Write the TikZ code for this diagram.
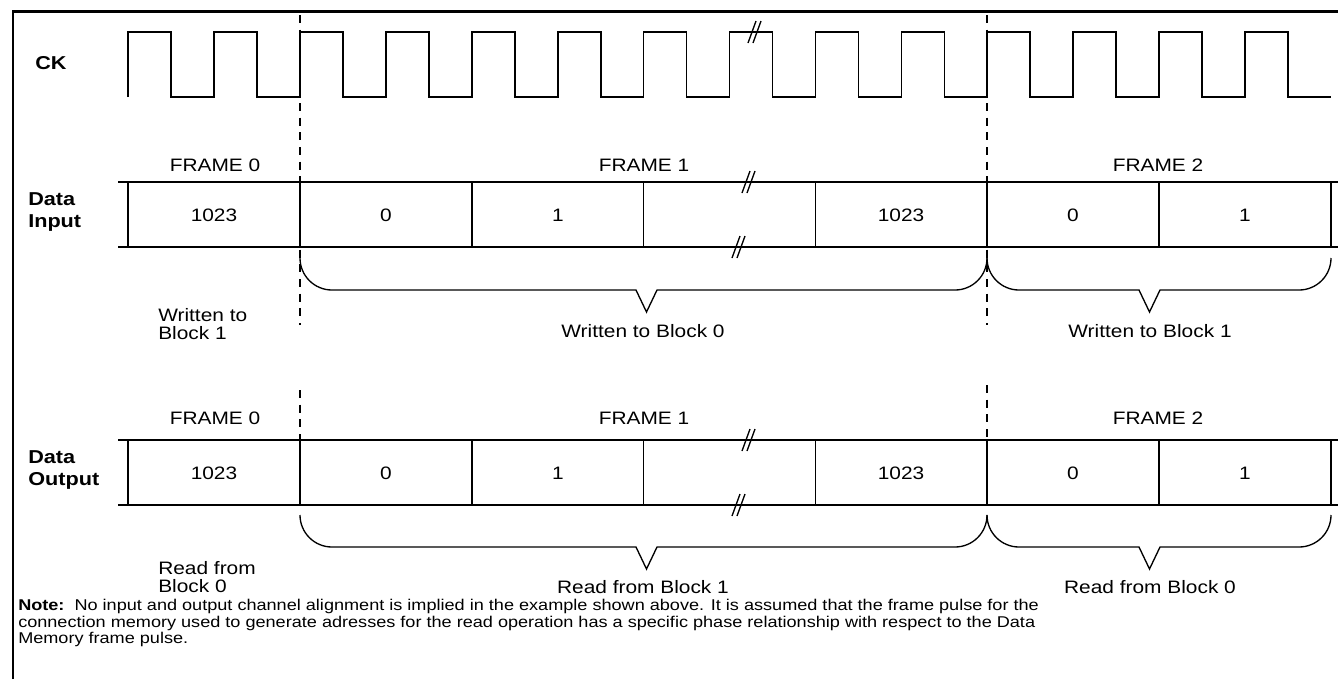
\documentclass[tikz,border=0pt]{standalone}
\usepackage{fontspec}
\setmainfont{Liberation Sans}[FakeStretch=1.16]
\usepackage{tikz}

\tikzset{
  sig/.style={line width=1pt},
  frameline/.style={line width=1.9pt},
  cut/.style={line width=1pt, dash pattern=on 6pt off 5pt},
  txt/.style={font=\fontsize{13.5}{13.5}\selectfont, inner sep=0pt},
  lefttxt/.style={txt, align=left, anchor=west},
  row/.style={font=\bfseries\fontsize{14}{16.5}\selectfont, align=left, anchor=west, inner sep=0pt},
  note/.style={font=\fontsize{11.7}{12.4}\selectfont, align=left, anchor=west, inner sep=0pt},
  gap/.pic={\draw[sig] (-6,11) -- (2,-11); \draw[sig] (-1,11) -- (7,-11);}
}

\begin{document}
\begin{tikzpicture}[x=0.75pt,y=-0.75pt]
        \useasboundingbox (0,0) rectangle (1338,679);
        \draw[frameline] (13,679) -- (13,11.5) -- (1338,11.5);
        % clock
        \node[row] (ck) at (35,63) {CK};
        \draw[sig] (128,97) -- (128,32) -- (171,32) -- (171,97) -- (214,97)
            -- (214,32) -- (257,32) -- (257,97) -- (300,97)
            -- (300,32) -- (343,32) -- (343,97) -- (386,97)
            -- (386,32) -- (429,32) -- (429,97) -- (472,97)
            -- (472,32) -- (515,32) -- (515,97) -- (558,97)
            -- (558,32) -- (601,32) -- (601,97) -- (643.5,97)
            -- (643.5,32) -- (686.5,32) -- (686.5,97) -- (729.5,97)
            -- (729.5,32) -- (772.5,32) -- (772.5,97) -- (815.5,97)
            -- (815.5,32) -- (858.5,32) -- (858.5,97) -- (901.5,97)
            -- (901.5,32) -- (944.5,32) -- (944.5,97) -- (987,97)
            -- (987,32) -- (1030,32) -- (1030,97) -- (1073,97)
            -- (1073,32) -- (1116,32) -- (1116,97) -- (1159,97)
            -- (1159,32) -- (1202,32) -- (1202,97) -- (1245,97)
            -- (1245,32) -- (1288,32) -- (1288,97) -- (1331,97);
        \pic at (754,32) {gap};
        % frame limits
        \draw[cut] (300,15) -- (300,325);
        \draw[cut] (300,390) -- (300,505);
        \draw[cut] (987,15) -- (987,325);
        \draw[cut] (987,385) -- (987,505);
        % data input
        \node[row] (din) at (28,212) {Data\\Input};
        \node[txt] (fin0) at (215,165) {FRAME 0};
        \node[txt] (fin1) at (644,165) {FRAME 1};
        \node[txt] (fin2) at (1158,165) {FRAME 2};
        \draw[sig] (118,182) -- (1338,182);
        \draw[sig] (118,247) -- (1338,247);
        \draw[sig] (128,182) -- (128,247) (300,182) -- (300,247) (472,182) -- (472,247) (643.5,182) -- (643.5,247)
            (815.5,182) -- (815.5,247) (987,182) -- (987,247) (1159,182) -- (1159,247) (1331,182) -- (1331,247);
        \pic at (748,182) {gap};
        \pic at (738,247) {gap};
        \node[txt] (in1) at (214,215) {1023};
        \node[txt] (in2) at (386,215) {0};
        \node[txt] (in3) at (558,215) {1};
        \node[txt] (in4) at (901,215) {1023};
        \node[txt] (in5) at (1073,215) {0};
        \node[txt] (in6) at (1245,215) {1};
        \draw[sig] (300,258) arc (180:90:32) -- (636,290) -- (646.5,312) -- (657,290) -- (955,290) arc (90:0:32);
        \draw[sig] (987,258) arc (180:90:32) -- (1139,290) -- (1149.5,312) -- (1160,290) -- (1299,290) arc (90:0:32);
        \node[lefttxt] (win1) at (158,324) {Written to\\Block 1};
        \node[txt] (win2) at (643,331) {Written to Block 0};
        \node[txt] (win3) at (1150,331) {Written to Block 1};
        % data output
        \node[row] (dout) at (28,470) {Data\\Output};
        \node[txt] (fout0) at (215,418) {FRAME 0};
        \node[txt] (fout1) at (644,418) {FRAME 1};
        \node[txt] (fout2) at (1158,418) {FRAME 2};
        \draw[sig] (118,440) -- (1338,440);
        \draw[sig] (118,505) -- (1338,505);
        \draw[sig] (128,440) -- (128,505) (300,440) -- (300,505) (472,440) -- (472,505) (643.5,440) -- (643.5,505)
            (815.5,440) -- (815.5,505) (987,440) -- (987,505) (1159,440) -- (1159,505) (1331,440) -- (1331,505);
        \pic at (748,440) {gap};
        \pic at (738,505) {gap};
        \node[txt] (out1) at (214,473) {1023};
        \node[txt] (out2) at (386,473) {0};
        \node[txt] (out3) at (558,473) {1};
        \node[txt] (out4) at (901,473) {1023};
        \node[txt] (out5) at (1073,473) {0};
        \node[txt] (out6) at (1245,473) {1};
        \draw[sig] (300,515) arc (180:90:32) -- (636,547) -- (646.5,569) -- (657,547) -- (955,547) arc (90:0:32);
        \draw[sig] (987,515) arc (180:90:32) -- (1139,547) -- (1149.5,569) -- (1160,547) -- (1299,547) arc (90:0:32);
        \node[lefttxt] (rd1) at (158,577) {Read from\\Block 0};
        \node[txt] (rd2) at (643,587) {Read from Block 1};
        \node[txt] (rd3) at (1150,587) {Read from Block 0};
        % note
        \node[note] (nt) at (18,623) {\textbf{Note:}\ \ No input and output channel alignment is implied in the example shown above. It is assumed that the frame pulse for the\\
            connection memory used to generate adresses for the read operation has a specific phase relationship with respect to the Data\\
            Memory frame pulse.};
    \end{tikzpicture}
\end{document}
